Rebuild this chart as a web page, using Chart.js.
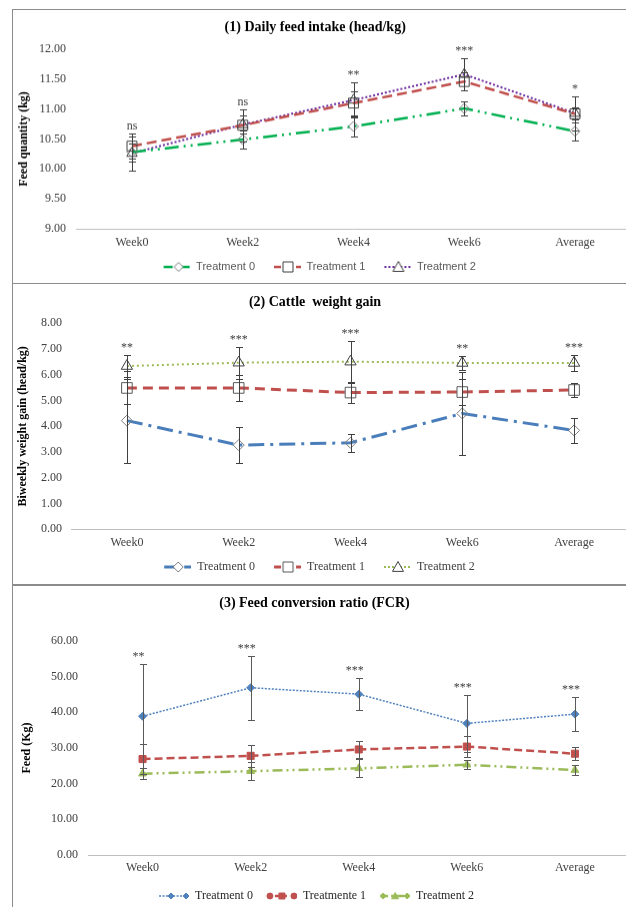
<!DOCTYPE html>
<html>
<head>
<meta charset="utf-8">
<script src="https://cdn.jsdelivr.net/npm/chart.js@4.4.1/dist/chart.umd.min.js"></script>
<style>
  html, body { margin: 0; padding: 0; background: #fff; width: 626px; height: 907px; overflow: hidden; position: relative; }
  .frame { position: absolute; background: #8c8c8c; }
  .panel { position: absolute; left: 0; }
</style>
</head>
<body>
<div class="frame" style="left:12px;top:9px;width:1px;height:898px"></div>
<div class="frame" style="left:12px;top:9px;width:614px;height:1px"></div>
<div class="frame" style="left:12px;top:283px;width:614px;height:1px"></div>
<div class="frame" style="left:12px;top:584px;width:614px;height:2px"></div>

<div class="panel" style="top:9px;width:648px;height:272.5px"><canvas id="intakeCanvas"></canvas></div>
<div class="panel" style="top:283px;width:648px;height:300px"><canvas id="gainCanvas"></canvas></div>
<div class="panel" style="top:585px;width:650px;height:327px"><canvas id="fcrCanvas"></canvas></div>

<script>
const weeks = ["Week0", "Week2", "Week4", "Week6", "Average"];
const treatNames = ["Treatment 0", "Treatment 1", "Treatment 2"];
const fcrNames = ["Treatment 0", "Treatmente 1", "Treatment 2"];

// (1) daily feed intake
const intakeT0 = [10.28, 10.49, 10.71, 11.01, 10.63];
const intakeT1 = [10.38, 10.73, 11.10, 11.46, 10.92];
const intakeT2 = [10.26, 10.74, 11.15, 11.58, 10.93];
const intakeT0Err = [0.15, 0.15, 0.16, 0.12, 0.15];
const intakeT1Err = [0.21, 0.27, 0.20, 0.15, 0.10];
const intakeT2Err = [0.28, 0.15, 0.29, 0.27, 0.29];
const intakeSig = ["ns", "ns", "**", "***", "*"];

// (2) weight gain
const gainT0 = [4.22, 3.27, 3.36, 4.50, 3.84];
const gainT1 = [5.49, 5.49, 5.31, 5.33, 5.41];
const gainT2 = [6.34, 6.47, 6.51, 6.46, 6.46];
const gainT0Err = [1.63, 0.69, 0.36, 1.60, 0.50];
const gainT1Err = [0.64, 0.50, 0.42, 0.50, 0.26];
const gainT2Err = [0.42, 0.62, 0.81, 0.28, 0.30];
const gainSig = ["**", "***", "***", "**", "***"];

// (3) FCR
const fcrT0 = [38.9, 46.9, 45.1, 36.9, 39.5];
const fcrT1 = [26.9, 27.8, 29.6, 30.4, 28.4];
const fcrT2 = [22.8, 23.5, 24.3, 25.3, 23.8];
const fcrT0Err = [14.6, 9.0, 4.4, 7.9, 4.8];
const fcrT1Err = [4.1, 3.1, 2.5, 2.9, 1.9];
const fcrT2Err = [1.5, 2.5, 2.5, 1.2, 1.4];
const fcrSig = ["**", "***", "***", "***", "***"];

Chart.defaults.font.family = "'Liberation Serif', 'Times New Roman', serif";
Chart.defaults.color = "#404040";
Chart.defaults.animation = false;

// error bars + significance stars
const errorBars = {
  id: "errorBars",
  afterDatasetsDraw(chart, args, opts) {
    const ctx = chart.ctx;
    const ys = chart.scales.y;
    const xs = chart.scales.x;
    ctx.save();
    ctx.strokeStyle = opts.color;
    ctx.lineWidth = 1;
    chart.data.datasets.forEach((ds, i) => {
      chart.getDatasetMeta(i).data.forEach((pt, j) => {
        const top = Math.round(ys.getPixelForValue(ds.data[j] + ds.errors[j])) + 0.5;
        const bot = Math.round(ys.getPixelForValue(ds.data[j] - ds.errors[j])) + 0.5;
        const x = Math.round(pt.x) + 0.5;
        ctx.beginPath();
        ctx.moveTo(x, top); ctx.lineTo(x, bot);
        ctx.moveTo(x - 3.5, top); ctx.lineTo(x + 3.5, top);
        ctx.moveTo(x - 3.5, bot); ctx.lineTo(x + 3.5, bot);
        ctx.stroke();
      });
    });
    ctx.fillStyle = opts.textColor;
    ctx.font = "12px 'Liberation Serif'";
    ctx.textAlign = "center";
    ctx.textBaseline = "alphabetic";
    opts.labels.forEach((txt, j) => {
      let hi = -Infinity;
      chart.data.datasets.forEach(ds => { hi = Math.max(hi, ds.data[j] + ds.errors[j]); });
      ctx.fillText(txt, xs.getPixelForValue(j) + (opts.shift || 0), ys.getPixelForValue(hi) - 4);
    });
    ctx.restore();
  }
};

function drawMark(g, m) {
  g.save();
  g.setLineDash([]);
  g.lineWidth = 1;
  g.fillStyle = m.fill;
  g.strokeStyle = m.stroke;
  const r = m.r, x = m.x, y = 7;
  g.beginPath();
  if (m.style === "diamond") {
    g.moveTo(x, y - r); g.lineTo(x + r, y); g.lineTo(x, y + r); g.lineTo(x - r, y); g.closePath();
  } else if (m.style === "square") {
    g.rect(x - r, y - r, 2 * r, 2 * r);
  } else if (m.style === "triangle") {
    g.moveTo(x, y - r); g.lineTo(x + r, y + r * 0.8); g.lineTo(x - r, y + r * 0.8); g.closePath();
  } else {
    g.arc(x, y, r, 0, Math.PI * 2);
  }
  g.fill();
  g.stroke();
  g.restore();
}

// legend sample: blank margin on the left, then line + markers
function makeIcon(margin, w, color, dash, width, marks) {
  const c = document.createElement("canvas");
  c.width = margin + w; c.height = 14;
  const g = c.getContext("2d");
  g.translate(margin, 0);
  g.strokeStyle = color;
  g.lineWidth = width;
  g.setLineDash(dash);
  g.beginPath(); g.moveTo(0, 7); g.lineTo(w, 7); g.stroke();
  marks.forEach(m => drawMark(g, m));
  return c;
}

function legendOpts(icons, font, color) {
  return {
    position: "bottom",
    labels: {
      usePointStyle: true,
      pointStyleWidth: icons[0].width,
      padding: 10,
      font: font,
      color: color,
      generateLabels(chart) {
        const items = Chart.defaults.plugins.legend.labels.generateLabels(chart);
        items.forEach((it, i) => { it.pointStyle = icons[i]; });
        return items;
      }
    }
  };
}

function axes(min, max, step, yWidth, yPad, yTitle, yTitlePad, xHeight, xPad) {
  return {
    x: {
      offset: true,
      grid: { display: false, drawTicks: false },
      border: { display: true, color: "#bfbfbf", width: 1 },
      ticks: { padding: xPad, font: { size: 12 }, color: "#404040" },
      afterFit(s) { s.height = xHeight; }
    },
    y: {
      min: min, max: max,
      grid: { display: false, drawTicks: false },
      border: { display: false },
      ticks: { stepSize: step, padding: yPad, font: { size: 12 }, color: "#404040",
               callback: v => Number(v).toFixed(2) },
      title: { display: true, text: yTitle, color: "#000", font: { size: 12, weight: "bold" },
               padding: { top: yTitlePad, bottom: 0 } },
      afterFit(s) { s.width = yWidth; }
    }
  };
}

const hollow = "rgba(255,255,255,0)";

// ---------- (1) ----------
const green = "#00b050", red = "#c0504d", purple = "#7030a0";
new Chart(document.querySelector("#intakeCanvas"), {
  type: "line",
  data: {
    labels: weeks,
    datasets: [
      { label: treatNames[0], data: intakeT0, errors: intakeT0Err, borderColor: green, borderWidth: 2.5,
        borderDash: [14, 5, 2, 5, 2, 5], pointStyle: "rectRot", pointRadius: 5,
        pointBackgroundColor: hollow, pointBorderColor: "#808080", pointBorderWidth: 1 },
      { label: treatNames[1], data: intakeT1, errors: intakeT1Err, borderColor: red, borderWidth: 2.5,
        borderDash: [10, 5], pointStyle: "rect", pointRadius: 7,
        pointBackgroundColor: hollow, pointBorderColor: "#404040", pointBorderWidth: 1 },
      { label: treatNames[2], data: intakeT2, errors: intakeT2Err, borderColor: purple, borderWidth: 2,
        borderDash: [2, 2], pointStyle: "triangle", pointRadius: 6,
        pointBackgroundColor: hollow, pointBorderColor: "#404040", pointBorderWidth: 1 }
    ]
  },
  options: {
    responsive: true,
    maintainAspectRatio: false,
    devicePixelRatio: 1,
    layout: { padding: { left: 0, right: 17.6, top: 0, bottom: 0 } },
    elements: { line: { tension: 0 } },
    plugins: {
      title: { display: true, text: "(1) Daily feed intake (head/kg)", color: "#000",
               font: { size: 14, weight: "bold" }, padding: { top: 9.6, bottom: 13.6 } },
      legend: legendOpts([
        makeIcon(9, 27, green, [9, 3, 2, 3], 2.5, [{ style: "diamond", x: 15, r: 4.5, fill: "#fff", stroke: "#808080" }]),
        makeIcon(9, 27, red, [7, 4], 2.5, [{ style: "square", x: 14, r: 5, fill: "#fff", stroke: "#404040" }]),
        makeIcon(9, 27, purple, [2, 2], 2, [{ style: "triangle", x: 14, r: 5.5, fill: "#fff", stroke: "#404040" }])
      ], { family: "'Liberation Sans', Arial, sans-serif", size: 11 }, "#595959"),
      errorBars: { color: "#404040", textColor: "#404040", labels: intakeSig },
      tooltip: { enabled: false }
    },
    scales: axes(9, 12, 0.5, 76.6, 10.6, "Feed quantity (kg)", 16.8, 22.5, 7)
  },
  plugins: [errorBars]
});

// ---------- (2) ----------
const blue = "#4a7ebb", olive = "#9bbb59";
new Chart(document.querySelector("#gainCanvas"), {
  type: "line",
  data: {
    labels: weeks,
    datasets: [
      { label: treatNames[0], data: gainT0, errors: gainT0Err, borderColor: blue, borderWidth: 3,
        borderDash: [16, 6, 3, 6], pointStyle: "rectRot", pointRadius: 5.5,
        pointBackgroundColor: hollow, pointBorderColor: "#7f7f7f", pointBorderWidth: 1 },
      { label: treatNames[1], data: gainT1, errors: gainT1Err, borderColor: red, borderWidth: 3,
        borderDash: [10, 6], pointStyle: "rect", pointRadius: 7.5,
        pointBackgroundColor: hollow, pointBorderColor: "#595959", pointBorderWidth: 1 },
      { label: treatNames[2], data: gainT2, errors: gainT2Err, borderColor: olive, borderWidth: 2,
        borderDash: [2, 3], pointStyle: "triangle", pointRadius: 6.5,
        pointBackgroundColor: hollow, pointBorderColor: "#404040", pointBorderWidth: 1 }
    ]
  },
  options: {
    responsive: true,
    maintainAspectRatio: false,
    devicePixelRatio: 1,
    layout: { padding: { left: 0, right: 18, top: 0, bottom: 0 } },
    elements: { line: { tension: 0 } },
    plugins: {
      title: { display: true, text: "(2) Cattle  weight gain", color: "#000",
               font: { size: 14, weight: "bold" }, padding: { top: 10.6, bottom: 12.9 } },
      legend: legendOpts([
        makeIcon(9, 27, blue, [10, 4, 2, 4], 3, [{ style: "diamond", x: 14, r: 5, fill: "#fff", stroke: "#7f7f7f" }]),
        makeIcon(9, 27, red, [7, 4], 3, [{ style: "square", x: 14, r: 5, fill: "#fff", stroke: "#595959" }]),
        makeIcon(9, 27, olive, [2, 2], 2, [{ style: "triangle", x: 14, r: 5.5, fill: "#fff", stroke: "#404040" }])
      ], { size: 12 }, "#404040"),
      errorBars: { color: "#404040", textColor: "#404040", labels: gainSig },
      tooltip: { enabled: false }
    },
    scales: axes(0, 8, 1, 71, 9, "Biweekly weight gain (head/kg)", 15.8, 21.7, 6.7)
  },
  plugins: [errorBars]
});

// ---------- (3) ----------
const blue3 = "#4f81bd";
new Chart(document.querySelector("#fcrCanvas"), {
  type: "line",
  data: {
    labels: weeks,
    datasets: [
      { label: fcrNames[0], data: fcrT0, errors: fcrT0Err, borderColor: blue3, borderWidth: 1.5,
        borderDash: [2, 1.5], pointStyle: "rectRot", pointRadius: 4,
        pointBackgroundColor: blue3, pointBorderColor: blue3, pointBorderWidth: 1 },
      { label: fcrNames[1], data: fcrT1, errors: fcrT1Err, borderColor: red, borderWidth: 2.5,
        borderDash: [8, 4], pointStyle: "rect", pointRadius: 5,
        pointBackgroundColor: red, pointBorderColor: red, pointBorderWidth: 1 },
      { label: fcrNames[2], data: fcrT2, errors: fcrT2Err, borderColor: olive, borderWidth: 2.5,
        borderDash: [10, 4, 2, 4, 2, 4], pointStyle: "triangle", pointRadius: 4.5,
        pointBackgroundColor: olive, pointBorderColor: olive, pointBorderWidth: 1 }
    ]
  },
  options: {
    responsive: true,
    maintainAspectRatio: false,
    devicePixelRatio: 1,
    layout: { padding: { left: 0, right: 21, top: 0, bottom: 0 } },
    elements: { line: { tension: 0 } },
    plugins: {
      title: { display: true, text: "(3) Feed conversion ratio (FCR)", color: "#000",
               font: { size: 14, weight: "bold" }, padding: { top: 9.9, bottom: 29.3 } },
      legend: legendOpts([
        makeIcon(4, 30, blue3, [2, 1.5], 1.5, [
          { style: "diamond", x: 12, r: 3, fill: blue3, stroke: blue3 },
          { style: "diamond", x: 27, r: 3, fill: blue3, stroke: blue3 }]),
        makeIcon(4, 30, red, [4, 4], 2.5, [
          { style: "circle", x: 3, r: 3, fill: red, stroke: red },
          { style: "square", x: 15, r: 3, fill: red, stroke: red },
          { style: "circle", x: 27, r: 3, fill: red, stroke: red }]),
        makeIcon(4, 30, olive, [8, 3, 2, 3], 2.5, [
          { style: "diamond", x: 3, r: 3, fill: olive, stroke: olive },
          { style: "triangle", x: 15, r: 3.5, fill: olive, stroke: olive },
          { style: "diamond", x: 27, r: 3, fill: olive, stroke: olive }])
      ], { size: 12 }, "#262626"),
      errorBars: { color: "#595959", textColor: "#404040", labels: fcrSig, shift: -4 },
      tooltip: { enabled: false }
    },
    scales: axes(0, 60, 10, 88.5, 10.5, "Feed (Kg)", 19.8, 25, 6)
  },
  plugins: [errorBars]
});
</script>
</body>
</html>
